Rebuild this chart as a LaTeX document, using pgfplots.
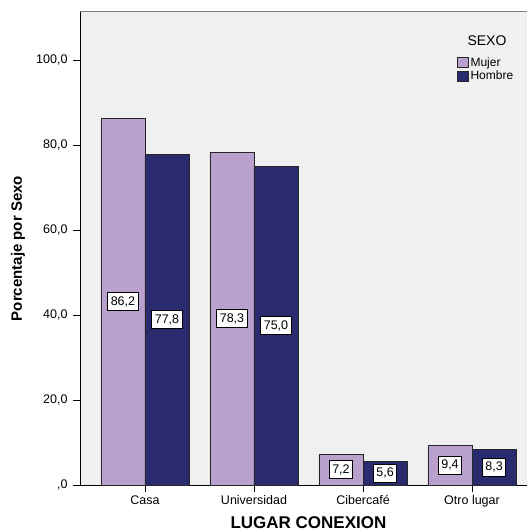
\documentclass[border=0pt]{standalone}
\usepackage{pgfplots}
\pgfplotsset{compat=1.18}
\usepackage{fontspec}
\setmainfont{Liberation Sans}
\definecolor{mujer}{RGB}{186,160,204}
\definecolor{hombre}{RGB}{42,42,110}
\definecolor{bg}{RGB}{240,240,240}
\pgfplotsset{
  barlabel/.style={
    nodes near coords={\pgfmathprintnumber[fixed,fixed zerofill,precision=1,use comma,assume math mode=true]{\pgfplotspointmeta}},
    visualization depends on={y \as \rawy},
    every node near coord/.style={shift={(axis direction cs:#1,-\rawy/2)}, anchor=center,
      fill=white, draw=black, line width=0.8pt, text=black, inner xsep=3pt, inner ysep=0pt,
      minimum height=18pt, font=\fontsize{12.5}{14}\selectfont},
  }
}
\begin{document}
\begin{tikzpicture}
\path[use as bounding box] (-80pt,-46pt) rectangle (447pt,485pt);
\begin{axis}[
  at={(0pt,0pt)}, anchor=south west,
  scale only axis, width=457pt, height=473pt,
  xmin=-0.596, xmax=3.596, ymin=0, ymax=111.3,
  axis background/.style={fill=bg},
  axis x line*=bottom, axis y line*=left,
  axis line style={black, line width=0.8pt},
  xtick={0,1,2,3},
  xticklabels={Casa,Universidad,Cibercafé,Otro lugar},
  ytick={0,20,40,60,80,100},
  yticklabels={{,0},{20,0},{40,0},{60,0},{80,0},{100,0}},
  tick style={black, line width=0.8pt},
  tick align=outside, major tick length=7pt,
  ticklabel style={font=\fontsize{12.5}{14}\selectfont},
  yticklabel style={xshift=-2pt},
  xlabel={LUGAR CONEXION},
  xlabel style={at={(axis description cs:0.5,-0.0803)}, anchor=center, font=\bfseries\fontsize{17}{19}\selectfont},
  ylabel={Porcentaje por Sexo},
  ylabel style={at={(axis description cs:-0.1357,0.5)}, anchor=center, font=\bfseries\fontsize{15}{17}\selectfont},
  legend cell align=left,
  legend style={at={(axis description cs:0.825,0.907)}, anchor=north west, draw=none, fill=none,
    font=\fontsize{12}{13}\selectfont, inner sep=0pt, row sep=0pt,
    nodes={inner sep=1.5pt}},
]
\addplot[ybar, bar width=0.404, bar shift=-0.202, fill=mujer, draw=black!85, line width=0.8pt,
  legend image code/.code={\draw[fill=mujer, draw=black!85, line width=0.8pt] (0pt,-5pt) rectangle (11pt,5pt);},
  barlabel=-0.202]
  coordinates {(0,86.2) (1,78.3) (2,7.2) (3,9.4)};
\addlegendentry{Mujer}
\addplot[ybar, bar width=0.404, bar shift=0.202, fill=hombre, draw=black!85, line width=0.8pt,
  legend image code/.code={\draw[fill=hombre, draw=black!85, line width=0.8pt] (0pt,-5pt) rectangle (11pt,5pt);},
  barlabel=0.202]
  coordinates {(0,77.8) (1,75.0) (2,5.6) (3,8.3)};
\addlegendentry{Hombre}
\draw[gray, line width=1pt] (rel axis cs:0,1) -- (rel axis cs:1,1);
\node[font=\fontsize{14}{16}\selectfont] at (axis description cs:0.8906,0.9387) {SEXO};
\end{axis}
\end{tikzpicture}
\end{document}
